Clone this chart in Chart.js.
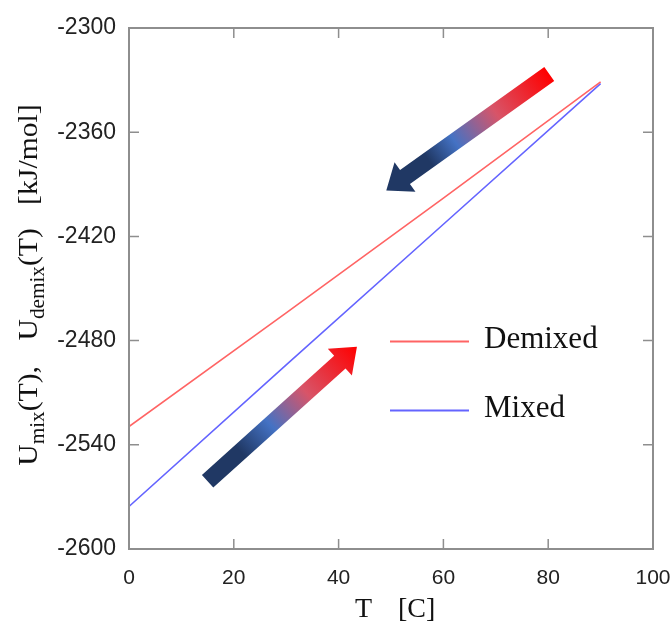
<!DOCTYPE html>
<html>
<head>
<meta charset="utf-8">
<script src="https://cdn.jsdelivr.net/npm/chart.js@4/dist/chart.umd.min.js"></script>
<style>
  html, body { margin: 0; padding: 0; background: #fff; }
  #wrap { width: 672px; height: 627px; }
</style>
</head>
<body>
<div id="wrap"><canvas id="c" width="672" height="627"></canvas></div>
<script>
// values
const temps = [0, 30, 60, 90]
const demixed = [-2529.5, -2464, -2398, -2331]
const mixed = [-2575.5, -2494, -2413, -2332]
const xTicks = [0, 20, 40, 60, 80, 100]
const yTicks = [-2600, -2540, -2480, -2420, -2360, -2300]
const seriesNames = ['Demixed', 'Mixed']

// arrow annotations, in data units: [tailX, tailY, tipX, tipY]
const arrowDown = [80.2, -2326.5, 49.1, -2393.5]
const arrowUp = [15.0, -2561.0, 43.5, -2483.5]

const FRAME = '#8e8e8e'
const SERIF = '"Liberation Serif", "Times New Roman", serif'
const SANS = '"Liberation Sans", Arial, sans-serif'

function toPoints(xs, ys) {
  return xs.map((x, i) => ({ x: x, y: ys[i] }))
}

function drawArrow(ctx, chart, a, stops) {
  const xs = chart.scales.x, ys = chart.scales.y
  const x0 = xs.getPixelForValue(a[0]), y0 = ys.getPixelForValue(a[1])
  const x1 = xs.getPixelForValue(a[2]), y1 = ys.getPixelForValue(a[3])
  const len = Math.hypot(x1 - x0, y1 - y0)
  const ang = Math.atan2(y1 - y0, x1 - x0)
  const shaft = 17, head = 36, headLen = 23
  ctx.save()
  ctx.translate(x0, y0)
  ctx.rotate(ang)
  const g = ctx.createLinearGradient(0, 0, len, 0)
  stops.forEach(s => g.addColorStop(s[0], s[1]))
  ctx.fillStyle = g
  ctx.beginPath()
  ctx.moveTo(0, -shaft / 2)
  ctx.lineTo(len - headLen, -shaft / 2)
  ctx.lineTo(len - headLen, -head / 2)
  ctx.lineTo(len, 0)
  ctx.lineTo(len - headLen, head / 2)
  ctx.lineTo(len - headLen, shaft / 2)
  ctx.lineTo(0, shaft / 2)
  ctx.closePath()
  ctx.fill()
  ctx.restore()
}

const decor = {
  id: 'decor',
  afterDatasetsDraw(chart) {
    const ctx = chart.ctx
    const a = chart.chartArea
    const xs = chart.scales.x, ys = chart.scales.y

    // frame
    ctx.save()
    ctx.strokeStyle = FRAME
    ctx.lineWidth = 2
    ctx.strokeRect(a.left, a.top, a.right - a.left, a.bottom - a.top)

    // inward ticks, mirrored on all sides
    ctx.lineWidth = 1.5
    ctx.beginPath()
    xTicks.forEach(v => {
      const px = xs.getPixelForValue(v)
      ctx.moveTo(px, a.bottom); ctx.lineTo(px, a.bottom - 10)
      ctx.moveTo(px, a.top); ctx.lineTo(px, a.top + 10)
    })
    yTicks.forEach(v => {
      const py = ys.getPixelForValue(v)
      ctx.moveTo(a.left, py); ctx.lineTo(a.left + 10, py)
      ctx.moveTo(a.right, py); ctx.lineTo(a.right - 10, py)
    })
    ctx.stroke()
    ctx.restore()

    // gradient arrows
    drawArrow(ctx, chart, arrowDown, [[0, '#ff0000'], [0.33, '#d85468'], [0.58, '#4472c4'], [0.74, '#203864'], [1, '#203864']])
    drawArrow(ctx, chart, arrowUp, [[0, '#203864'], [0.22, '#203864'], [0.42, '#4472c4'], [0.66, '#d85468'], [1, '#ff0000']])

    // legend
    ctx.save()
    const cols = chart.data.datasets.map(d => d.borderColor)
    const rowsY = [341.5, 410.5]
    seriesNames.forEach((name, i) => {
      ctx.strokeStyle = cols[i]
      ctx.lineWidth = 2
      ctx.beginPath()
      ctx.moveTo(390, rowsY[i]); ctx.lineTo(469, rowsY[i])
      ctx.stroke()
      ctx.fillStyle = '#111'
      ctx.font = '31px ' + SERIF
      ctx.textBaseline = 'alphabetic'
      ctx.fillText(name, 484, rowsY[i] + 6)
    })
    ctx.restore()

    // x title
    ctx.save()
    ctx.fillStyle = '#111'
    ctx.font = '28px ' + SERIF
    ctx.textBaseline = 'alphabetic'
    ctx.fillText('T', 355, 617)
    ctx.fillText('[C]', 398, 617)
    ctx.restore()

    // y title with subscripts, rotated
    ctx.save()
    ctx.translate(37, 285)
    ctx.rotate(-Math.PI / 2)
    ctx.scale(1.06, 1)
    ctx.fillStyle = '#111'
    ctx.textBaseline = 'alphabetic'
    const parts = [
      ['U', 0, 0], ['mix', 1, 0], ['(T),', 0, 24],
      ['U', 0, 0], ['demix', 1, 0], ['(T)', 0, 22],
      ['[kJ/mol]', 0, 0]
    ]
    let total = 0
    parts.forEach(p => {
      ctx.font = (p[1] ? '20px ' : '28px ') + SERIF
      total += ctx.measureText(p[0]).width + p[2]
    })
    let x = -total / 2
    parts.forEach(p => {
      ctx.font = (p[1] ? '20px ' : '28px ') + SERIF
      ctx.fillText(p[0], x, p[1] ? 7 : 0)
      x += ctx.measureText(p[0]).width + p[2]
    })
    ctx.restore()
  }
}

new Chart(document.getElementById('c'), {
  type: 'line',
  data: {
    datasets: [
      { label: seriesNames[0], data: toPoints(temps, demixed), borderColor: 'rgb(255,100,100)', borderWidth: 1.6, pointRadius: 0, tension: 0 },
      { label: seriesNames[1], data: toPoints(temps, mixed), borderColor: 'rgb(100,100,255)', borderWidth: 1.6, pointRadius: 0, tension: 0 }
    ]
  },
  options: {
    responsive: false,
    animation: false,
    events: [],
    layout: { padding: { top: 28, right: 19, left: 0, bottom: 0 } },
    plugins: { legend: { display: false }, tooltip: { enabled: false } },
    scales: {
      x: {
        type: 'linear', min: 0, max: 100,
        afterFit: s => { s.height = 78; s.paddingLeft = 0; s.paddingRight = 0 },
        afterBuildTicks: s => { s.ticks = xTicks.map(v => ({ value: v })) },
        grid: { display: false, drawTicks: false },
        border: { display: false },
        ticks: { padding: 17, color: '#222', font: { family: SANS, size: 21 }, maxRotation: 0, callback: v => String(v) }
      },
      y: {
        type: 'linear', min: -2600, max: -2300,
        afterFit: s => { s.width = 129; s.paddingTop = 0; s.paddingBottom = 0 },
        afterBuildTicks: s => { s.ticks = yTicks.map(v => ({ value: v })) },
        grid: { display: false, drawTicks: false },
        border: { display: false },
        ticks: { padding: 13, color: '#222', font: { family: SANS, size: 23 }, callback: v => String(v) }
      }
    }
  },
  plugins: [decor]
})
</script>
</body>
</html>
